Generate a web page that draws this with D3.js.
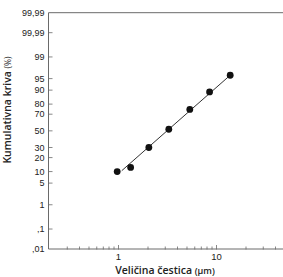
<!DOCTYPE html>
<html><head><meta charset="utf-8">
<script src="https://cdn.jsdelivr.net/npm/d3@7"></script>
<style>body{margin:0;background:#fff}svg{display:block}</style>
</head><body>
<svg id="c" width="283" height="277"></svg>
<script>
const sizes = [0.97, 1.33, 2.04, 3.26, 5.34, 8.5, 13.8];
const cumulative = [10, 12.5, 30, 52, 75, 89, 96];
const fitSizes = [1.08, 13.8];
const fitCumulative = [10.5, 96];
const yTickValues = [99.99, 99.9, 99, 95, 90, 80, 70, 50, 30, 20, 10, 5, 1, 0.1, 0.01];
const yTickLabels = ["99,99", "99,99", "99", "95", "90", "80", "70", "50", "30", "20", "10", "5", "1", ",1", ",01"];
const xMajor = [1, 10];
const xMinor = [0.3,0.4,0.5,0.6,0.7,0.8,0.9,2,3,4,5,6,7,8,9,20,30,40];

// inverse normal CDF (Acklam)
function probit(p){
  const a=[-3.969683028665376e+01,2.209460984245205e+02,-2.759285104469687e+02,1.383577518672690e+02,-3.066479806614716e+01,2.506628277459239e+00];
  const b=[-5.447609879822406e+01,1.615858368580409e+02,-1.556989798598866e+02,6.680131188771972e+01,-1.328068155288572e+01];
  const c=[-7.784894002430293e-03,-3.223964580411365e-01,-2.400758277161838e+00,-2.549732539343734e+00,4.374664141464968e+00,2.938163982698783e+00];
  const d=[7.784695709041462e-03,3.224671290700398e-01,2.445134137142996e+00,3.754408661907416e+00];
  const pl=0.02425;
  if(p<pl){const q=Math.sqrt(-2*Math.log(p));return (((((c[0]*q+c[1])*q+c[2])*q+c[3])*q+c[4])*q+c[5])/((((d[0]*q+d[1])*q+d[2])*q+d[3])*q+1);}
  if(p>1-pl){const q=Math.sqrt(-2*Math.log(1-p));return -(((((c[0]*q+c[1])*q+c[2])*q+c[3])*q+c[4])*q+c[5])/((((d[0]*q+d[1])*q+d[2])*q+d[3])*q+1);}
  const q=p-0.5,r=q*q;
  return (((((a[0]*r+a[1])*r+a[2])*r+a[3])*r+a[4])*r+a[5])*q/(((((b[0]*r+b[1])*r+b[2])*r+b[3])*r+b[4])*r+1);
}

const svg = d3.select("#c");
const x = d3.scaleLog().domain([1, 10]).range([118.5, 216.5]);
const zTop = probit(0.9999), zBot = probit(0.0001);
const yz = d3.scaleLinear().domain([zBot, zTop]).range([249, 12.7]);
const y = v => yz(probit(v/100));

const xLeft = 48.5, xRight = 290;
const axisCol = "#6a6a6a";
const font = "'Liberation Sans Narrow','Liberation Sans',sans-serif";

// frame
svg.append("line").attr("x1",xLeft).attr("x2",xRight).attr("y1",y(99.99)).attr("y2",y(99.99)).attr("stroke",axisCol).attr("stroke-width",1);
svg.append("line").attr("x1",xLeft).attr("x2",xLeft).attr("y1",y(99.99)).attr("y2",y(0.01)).attr("stroke",axisCol).attr("stroke-width",1);
svg.append("line").attr("x1",xLeft).attr("x2",xRight).attr("y1",y(0.01)).attr("y2",y(0.01)).attr("stroke",axisCol).attr("stroke-width",1);

// y ticks
const yt = svg.append("g");
yTickValues.forEach((v,i)=>{
  const yy = y(v);
  if(v!==99.99 && v!==0.01){
    yt.append("line").attr("x1",xLeft).attr("x2",xLeft+4).attr("y1",yy).attr("y2",yy).attr("stroke",axisCol).attr("stroke-width",0.8);
  }
  yt.append("text").attr("x",44.5).attr("y",yy).attr("dy","0.35em").attr("text-anchor","end")
    .attr("font-family",font).attr("font-size",9).attr("fill","#222").text(yTickLabels[i]);
});

// x ticks
const by = y(0.01);
xMinor.forEach(v=>{
  svg.append("line").attr("x1",x(v)).attr("x2",x(v)).attr("y1",by-2.5).attr("y2",by+0.5).attr("stroke",axisCol).attr("stroke-width",0.8);
});
xMajor.forEach(v=>{
  svg.append("line").attr("x1",x(v)).attr("x2",x(v)).attr("y1",by-4).attr("y2",by+0.5).attr("stroke",axisCol).attr("stroke-width",0.8);
  svg.append("text").attr("x",x(v)).attr("y",259.5).attr("text-anchor","middle")
    .attr("font-family",font).attr("font-size",9.5).attr("fill","#222").text(v);
});

// fit line
svg.append("line").attr("x1",x(fitSizes[0])).attr("y1",y(fitCumulative[0]))
  .attr("x2",x(fitSizes[1])).attr("y2",y(fitCumulative[1])).attr("stroke","#333").attr("stroke-width",1);

// points
svg.selectAll("circle.pt").data(sizes).enter().append("circle")
  .attr("cx",d=>x(d)).attr("cy",(d,i)=>y(cumulative[i])).attr("r",3.4).attr("fill","#111");

// axis titles
const xt = svg.append("text").attr("x",165).attr("y",274).attr("text-anchor","middle")
  .attr("font-family","'Open Sans',sans-serif").attr("fill","#222");
xt.append("tspan").attr("font-size",10.5).attr("font-weight",600).text("Veličina čestica ");
xt.append("tspan").attr("font-size",9).attr("font-weight",600).text("(µm)");

const ytitle = svg.append("text").attr("transform","translate(11,110) rotate(-90)").attr("text-anchor","middle")
  .attr("font-family","'Open Sans',sans-serif").attr("fill","#222");
ytitle.append("tspan").attr("font-size",10.5).attr("font-weight",600).text("Kumulativna kriva ");
ytitle.append("tspan").attr("font-size",8.5).attr("font-weight",400).text("(%)");
</script>
</body></html>
